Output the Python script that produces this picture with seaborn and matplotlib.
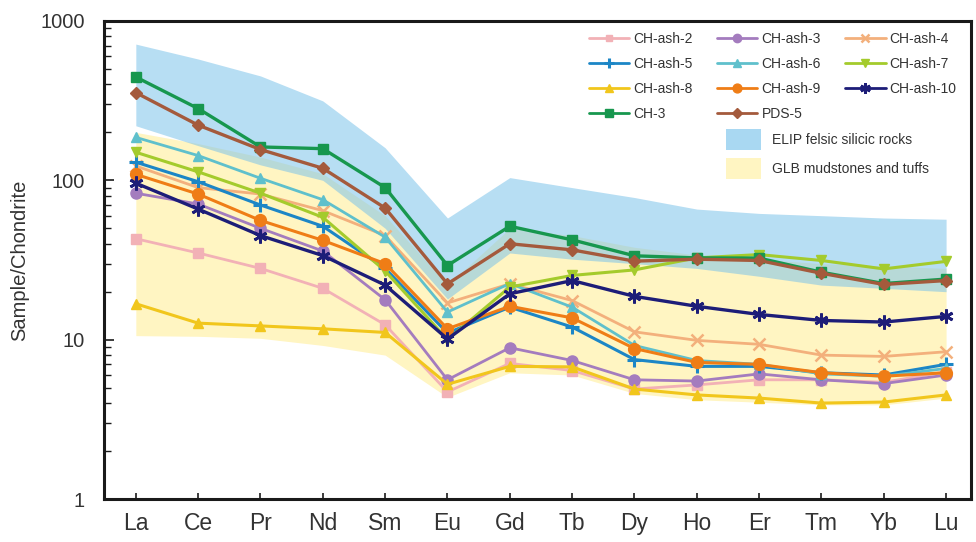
import numpy as np
import pandas as pd
import matplotlib
matplotlib.use("Agg")
import matplotlib.pyplot as plt
from matplotlib.patches import Patch
from matplotlib.lines import Line2D
import seaborn as sns

# Rare earth elements along the x axis
elements = ["La", "Ce", "Pr", "Nd", "Sm", "Eu", "Gd", "Tb", "Dy", "Ho", "Er", "Tm", "Yb", "Lu"]

# Chondrite-normalised REE values per sample
ch_ash_2 = [43, 35, 28, 21, 12.4, 4.7, 7.1, 6.4, 4.9, 5.2, 5.6, 5.6, 5.4, 6.3]
ch_ash_3 = [83, 71, 50, 36, 17.8, 5.6, 8.9, 7.4, 5.6, 5.5, 6.1, 5.6, 5.3, 6.0]
ch_ash_4 = [123, 90, 82, 64.5, 45, 17, 22.4, 17.6, 11.2, 9.9, 9.35, 8.0, 7.85, 8.4]
ch_ash_5 = [130, 98, 70, 51.5, 28, 11, 16, 12, 7.5, 6.8, 6.8, 6.2, 6.0, 7.0]
ch_ash_6 = [186, 143, 103, 75.6, 44, 14.9, 22.5, 16, 9.2, 7.4, 7.0, 6.1, 5.9, 6.6]
ch_ash_7 = [150, 113, 83, 58.6, 27, 10, 21.4, 25.3, 27.4, 32.6, 34.2, 31.4, 27.8, 31]
ch_ash_8 = [16.8, 12.7, 12.2, 11.7, 11.1, 5.25, 6.8, 6.75, 4.9, 4.5, 4.3, 4.0, 4.06, 4.5]
ch_ash_9 = [109, 82, 56, 42, 30, 11.7, 16.2, 13.7, 8.8, 7.2, 7.0, 6.2, 5.9, 6.2]
ch_ash_10 = [96, 66, 45, 33.7, 22, 10.1, 19.4, 23.5, 18.7, 16.2, 14.4, 13.2, 12.9, 14]
ch_3 = [445, 282, 162, 158, 90, 29.2, 51.5, 42.3, 33.6, 32.6, 32.5, 26.5, 22.5, 24]
pds_5 = [355, 222, 156, 119, 67, 22.4, 40, 36.6, 31.1, 32, 31.4, 26.1, 22.2, 23.5]

# Reference fields (min / max envelopes)
elip_low = [220, 165, 125, 100, 50, 18, 35, 32, 30, 28, 25, 22, 21, 20]
elip_high = [716, 577, 452, 315, 160, 58, 104, 90, 78, 66, 62, 60, 58, 57]
glb_low = [10.6, 10.5, 10.2, 9.2, 8.0, 4.35, 6.2, 6.0, 4.6, 4.2, 4.05, 3.9, 3.9, 4.3]
glb_high = [200, 170, 140, 110, 60, 22, 50, 45, 38, 34, 32, 30, 29, 28]

samples = {
    "CH-ash-2": ch_ash_2, "CH-ash-3": ch_ash_3, "CH-ash-4": ch_ash_4,
    "CH-ash-5": ch_ash_5, "CH-ash-6": ch_ash_6, "CH-ash-7": ch_ash_7,
    "CH-ash-8": ch_ash_8, "CH-ash-9": ch_ash_9, "CH-ash-10": ch_ash_10,
    "CH-3": ch_3, "PDS-5": pds_5,
}

styles = {
    "CH-ash-2": dict(color="#f2b1b6", marker="s", ms=6.5, lw=2.0),
    "CH-ash-3": dict(color="#a47cbe", marker="o", ms=8, lw=2.0),
    "CH-ash-4": dict(color="#f3b07c", marker="x", ms=8, lw=2.0, mew=1.8),
    "CH-ash-5": dict(color="#1c86c6", marker="+", ms=10, lw=2.2, mew=2.2),
    "CH-ash-6": dict(color="#5fc0cc", marker="^", ms=7.5, lw=2.0),
    "CH-ash-7": dict(color="#a4cb2c", marker="v", ms=7.5, lw=2.2),
    "CH-ash-8": dict(color="#f1c61c", marker="^", ms=7.5, lw=2.2),
    "CH-ash-9": dict(color="#ef7d16", marker="o", ms=8.5, lw=2.2),
    "CH-ash-10": dict(color="#1d1d78", marker=(6, 2, 0), ms=10, lw=2.4, mew=2.0),
    "CH-3": dict(color="#17974e", marker="s", ms=7, lw=2.4),
    "PDS-5": dict(color="#a45a3c", marker="D", ms=6.5, lw=2.4),
}

# Legend reads row by row; matplotlib fills columns, so list the columns
legend_order = ["CH-ash-2", "CH-ash-5", "CH-ash-8", "CH-3",
                "CH-ash-3", "CH-ash-6", "CH-ash-9", "PDS-5",
                "CH-ash-4", "CH-ash-7", "CH-ash-10"]

sns.set_style("ticks")
plt.rcParams["font.family"] = ["Liberation Sans", "DejaVu Sans"]

fig = plt.figure(figsize=(9.76, 5.42), dpi=100)
ax = fig.add_axes([0.1066, 0.0793, 0.8883, 0.882])

xpos = np.arange(len(elements))

# Reference fields
ax.fill_between(xpos, glb_low, glb_high, color="#fff5c2", lw=0, zorder=1)
ax.fill_between(xpos, elip_low, elip_high, color="#7cc3ea", alpha=0.55, lw=0, zorder=1.2)

# Sample patterns
for name, vals in samples.items():
    st = dict(styles[name])
    color = st.pop("color")
    marker = st.pop("marker")
    ms = st.pop("ms")
    lw = st.pop("lw")
    mew = st.pop("mew", 1.0)
    df = pd.DataFrame({"pos": xpos, "value": vals})
    sns.lineplot(data=df, x="pos", y="value", ax=ax, color=color, marker=marker,
                 markersize=ms, linewidth=lw, markeredgewidth=mew,
                 markeredgecolor=color, sort=False, label=name, legend=False,
                 zorder=3)

ax.set_yscale("log")
ax.set_ylim(1, 1000)
ax.set_xlim(-0.51, 13.4)
ax.set_xticks(xpos)
ax.set_xticklabels(elements)
ax.set_yticks([1, 10, 100, 1000])
ax.set_yticklabels(["1", "10", "100", "1000"])
ax.set_xlabel("")
ax.set_ylabel("Sample/Chondrite", fontsize=14.5, color="#333333", labelpad=8)

for side in ["left", "bottom", "top", "right"]:
    ax.spines[side].set_linewidth(2.2)
    ax.spines[side].set_color("#1a1a1a")
    ax.spines[side].set_visible(True)

ax.tick_params(axis="x", direction="in", length=4, width=1.2, labelsize=16.5,
               pad=9, colors="#1a1a1a", labelcolor="#333333", top=False)
ax.tick_params(axis="y", which="major", direction="in", length=7, width=1.2,
               labelsize=14.5, pad=14, colors="#1a1a1a", labelcolor="#333333",
               right=False)
ax.tick_params(axis="y", which="minor", direction="in", length=5, width=1.0,
               colors="#1a1a1a", right=False)

# Sample legend (three columns)
handles = []
for name in legend_order:
    st = styles[name]
    handles.append(Line2D([0], [0], color=st["color"], marker=st["marker"],
                          markersize=st["ms"] * 0.75, lw=2.0,
                          markeredgewidth=st.get("mew", 1.0),
                          markeredgecolor=st["color"], label=name))
leg1 = ax.legend(handles=handles, ncol=3, loc="upper left",
                 bbox_to_anchor=(0.556, 0.982), frameon=False, fontsize=10,
                 handlelength=2.9, columnspacing=1.75, labelspacing=0.78,
                 handletextpad=0.3, borderaxespad=0, borderpad=0.2)
for t in leg1.get_texts():
    t.set_color("#333333")
ax.add_artist(leg1)

# Field legend
patches = [Patch(facecolor="#a9d8f2", edgecolor="none", label="ELIP felsic silicic rocks"),
           Patch(facecolor="#fff5c2", edgecolor="none", label="GLB mudstones and tuffs")]
leg2 = ax.legend(handles=patches, loc="upper left", bbox_to_anchor=(0.714, 0.78),
                 frameon=False, fontsize=10, handlelength=2.5, handleheight=2.0,
                 labelspacing=0.55, handletextpad=0.8, borderaxespad=0, borderpad=0.2)
for t in leg2.get_texts():
    t.set_color("#333333")

fig.savefig("out.png", dpi=100)
